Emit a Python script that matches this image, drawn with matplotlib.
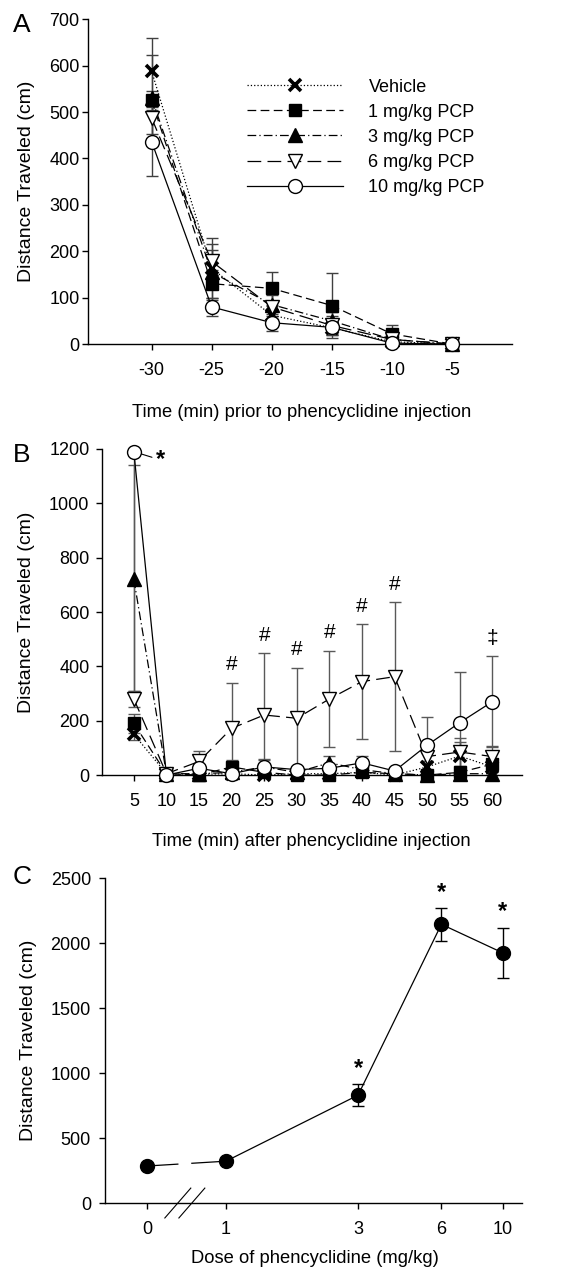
import numpy as np
import matplotlib.pyplot as plt

plt.rcParams['font.family'] = ['Liberation Sans', 'DejaVu Sans']
plt.rcParams['font.size'] = 13
plt.rcParams['axes.unicode_minus'] = False

# Panel A : time before PCP injection
time_a = [-30, -25, -20, -15, -10, -5]
veh_a = [588, 163, 62, 35, 5, 0]
veh_a_sem = [72, 40, 20, 15, 5, 2]
pcp1_a = [525, 130, 120, 83, 22, 0]
pcp1_a_sem = [20, 30, 35, 70, 20, 2]
pcp3_a = [530, 155, 85, 50, 10, 0]
pcp3_a_sem = [92, 60, 25, 20, 10, 2]
pcp6_a = [487, 178, 80, 40, 10, 0]
pcp6_a_sem = [35, 50, 25, 20, 8, 2]
pcp10_a = [436, 80, 46, 36, 2, 0]
pcp10_a_sem = [74, 20, 18, 15, 3, 2]

# Panel B : time after PCP injection
time_b = [5, 10, 15, 20, 25, 30, 35, 40, 45, 50, 55, 60]
veh_b = [150, 5, 3, 5, 0, 5, 5, 10, 0, 30, 70, 30]
veh_b_sem = [20, 3, 3, 5, 3, 3, 5, 8, 3, 20, 50, 60]
pcp1_b = [190, 5, 0, 30, 10, 0, 0, 10, 5, 0, 10, 40]
pcp1_b_sem = [35, 3, 3, 25, 10, 3, 3, 8, 5, 3, 10, 50]
pcp3_b = [720, 5, 5, 10, 30, 10, 45, 20, 5, 0, 5, 5]
pcp3_b_sem = [420, 3, 5, 10, 30, 10, 25, 15, 5, 3, 5, 5]
pcp6_b = [280, 5, 50, 172, 221, 209, 280, 344, 362, 68, 85, 68]
pcp6_b_sem = [30, 3, 40, 168, 227, 186, 178, 211, 274, 15, 50, 40]
pcp10_b = [1190, 0, 25, 5, 30, 20, 25, 45, 15, 110, 193, 270]
pcp10_b_sem = [880, 2, 10, 5, 25, 10, 10, 25, 5, 105, 185, 167]
marks_b = ['#', '#', '#', '#', '#', '#', '‡']
marks_b_time = [20, 25, 30, 35, 40, 45, 60]

# Panel C : dose response
dose = np.array([0, 1, 3, 6, 10])
dose_labels = ['0', '1', '3', '6', '10']
dist_c = [285, 322, 830, 2145, 1925]
dist_c_sem = [20, 20, 85, 125, 195]
star_c = [3, 6, 10]

labels = ['Vehicle', '1 mg/kg PCP', '3 mg/kg PCP', '6 mg/kg PCP', '10 mg/kg PCP']
styles = [
    dict(marker='x', ls=':', mfc='k', mec='k', ms=8, mew=2.6),
    dict(marker='s', ls=(0, (7, 3.5)), mfc='k', mec='k', ms=8.5, mew=1),
    dict(marker='^', ls=(0, (7, 2.5, 1, 2.5)), mfc='k', mec='k', ms=9.5, mew=1),
    dict(marker='v', ls=(0, (11, 5)), mfc='white', mec='k', ms=10, mew=1),
    dict(marker='o', ls='-', mfc='white', mec='k', ms=10, mew=1),
]


def draw_series(ax, x, ys, sems, ecol):
    hs = []
    for y, s in zip(ys, sems):
        ax.errorbar(x, y, yerr=s, fmt='none', ecolor=ecol, elinewidth=1,
                    capsize=4, capthick=1)
    for y, st, lab in zip(ys, styles, labels):
        h, = ax.plot(x, y, color='k', lw=0.9, clip_on=False, label=lab,
                     zorder=3, **st)
        hs.append(h)
    return hs


def style_axis(ax, ypad):
    for s in ['top', 'right']:
        ax.spines[s].set_visible(False)
    for s in ['left', 'bottom']:
        ax.spines[s].set_linewidth(1)
    ax.tick_params(axis='y', direction='out', length=4, width=1, pad=ypad)
    ax.tick_params(axis='x', direction='out', length=4, width=1, pad=9)


fig = plt.figure(figsize=(5.79, 12.79), dpi=100)

# ---- A
ax_a = fig.add_axes([0.152, 0.731, 0.732, 0.254])
hs = draw_series(ax_a, time_a,
                 [veh_a, pcp1_a, pcp3_a, pcp6_a, pcp10_a],
                 [veh_a_sem, pcp1_a_sem, pcp3_a_sem, pcp6_a_sem, pcp10_a_sem], '0.25')
ax_a.set_xlim(-35.3, 0)
ax_a.set_ylim(0, 700)
ax_a.set_xticks(time_a)
ax_a.set_yticks(range(0, 701, 100))
style_axis(ax_a, 2)
ax_a.set_ylabel('Distance Traveled (cm)', fontsize=14)
ax_a.yaxis.set_label_coords(-0.125, 0.5)
ax_a.set_xlabel('Time (min) prior to phencyclidine injection', fontsize=13.2)
ax_a.xaxis.set_label_coords(0.505, -0.185)
ax_a.legend(handles=hs, loc='upper left', bbox_to_anchor=(0.355, 0.845),
            frameon=False, handlelength=5.3, handletextpad=1.4,
            labelspacing=0.45, borderpad=0, fontsize=13)

# ---- B
ax_b = fig.add_axes([0.176, 0.394, 0.725, 0.255])
draw_series(ax_b, time_b,
            [veh_b, pcp1_b, pcp3_b, pcp6_b, pcp10_b],
            [veh_b_sem, pcp1_b_sem, pcp3_b_sem, pcp6_b_sem, pcp10_b_sem], '0.35')
ax_b.set_xlim(0.1, 64.5)
ax_b.set_ylim(0, 1200)
ax_b.set_xticks(time_b)
ax_b.set_yticks(range(0, 1201, 200))
style_axis(ax_b, 5)
ax_b.set_ylabel('Distance Traveled (cm)', fontsize=14)
ax_b.yaxis.set_label_coords(-0.159, 0.5)
ax_b.set_xlabel('Time (min) after phencyclidine injection', fontsize=13.2)
ax_b.xaxis.set_label_coords(0.5, -0.178)
for t, m in zip(marks_b_time, marks_b):
    i = time_b.index(t)
    top = pcp6_b[i] + pcp6_b_sem[i] if m == '#' else pcp10_b[i] + pcp10_b_sem[i]
    ax_b.annotate(m, (t, top), xytext=(0, 6), textcoords='offset points',
                  ha='center', va='bottom', fontsize=15)
ax_b.annotate('*', (time_b[0], pcp10_b[0]), xytext=(16, -6),
              textcoords='offset points', ha='left', va='center', fontsize=17,
              fontweight='bold',
              arrowprops=dict(arrowstyle='-', color='k', lw=0.8,
                              shrinkA=1, shrinkB=6))

# ---- C
ax_c = fig.add_axes([0.181, 0.0594, 0.720, 0.254])
zero_pos = 0.52
xc = np.where(dose == 0, zero_pos, dose).astype(float)
ax_c.set_xscale('log')
ax_c.errorbar(xc, dist_c, yerr=dist_c_sem, fmt='none', ecolor='k',
              elinewidth=1, capsize=4, capthick=1)
break_lo, break_hi = 0.67, 0.753
lx = np.log10(xc[:2])
yb = np.interp(np.log10([break_lo, break_hi]), lx, dist_c[:2])
ax_c.plot([xc[0], break_lo], [dist_c[0], yb[0]], color='k', lw=0.9)
ax_c.plot([break_hi] + list(xc[1:]), [yb[1]] + dist_c[1:], color='k', lw=0.9)
ax_c.plot(xc, dist_c, ls='none', marker='o', ms=10, mfc='k', mec='k',
          clip_on=False, zorder=3)
ax_c.set_xlim(0.365, 11.7)
ax_c.set_ylim(0, 2500)
ax_c.set_xticks(xc)
ax_c.set_xticklabels(dose_labels)
ax_c.xaxis.set_minor_locator(plt.NullLocator())
ax_c.set_yticks(range(0, 2501, 500))
style_axis(ax_c, 6)
ax_c.set_ylabel('Distance Traveled (cm)', fontsize=14)
ax_c.yaxis.set_label_coords(-0.163, 0.5)
ax_c.set_xlabel('Dose of phencyclidine (mg/kg)', fontsize=13.2)
ax_c.xaxis.set_label_coords(0.504, -0.145)
trans = ax_c.get_xaxis_transform()
for b in [break_lo, break_hi]:
    ax_c.plot([b / 1.114, b * 1.114], [-0.046, 0.046], color='k', lw=0.8,
              transform=trans, clip_on=False)
for d in star_c:
    i = list(dose).index(d)
    ax_c.annotate('*', (xc[i], dist_c[i] + dist_c_sem[i]), xytext=(0, 3),
                  textcoords='offset points', ha='center', va='bottom',
                  fontsize=17, fontweight='bold')

for lab, yy in zip(['A', 'B', 'C'], [25, 455, 877]):
    fig.text(13 / 579, 1 - yy / 1279, lab, ha='left', va='center', fontsize=19)

fig.savefig('out.png', dpi=100)
